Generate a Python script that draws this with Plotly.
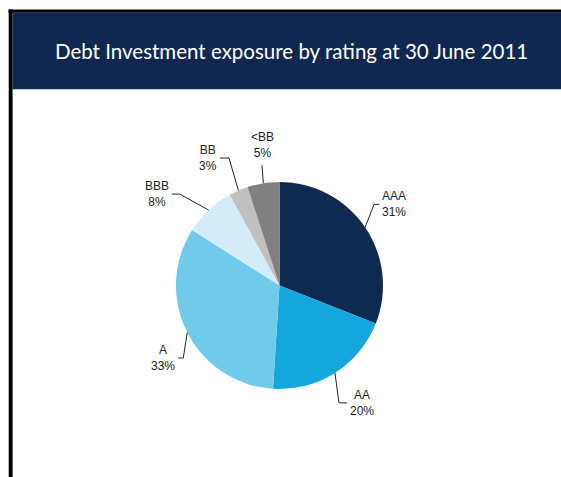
import math
import plotly.graph_objects as go

# Portfolio split by credit rating (percent of debt investments)
ratings = ["AAA", "AA", "A", "BBB", "BB", "<BB"]
shares = [31, 20, 33, 8, 3, 5]
colors = ["#0F2A50", "#14A6DD", "#72CAEB", "#D2ECF8", "#C0C0C0", "#808080"]

title_text = "Debt Investment exposure by rating at 30 June 2011"

W, H = 561, 477
NAVY = "#0F2850"

# pie geometry in pixels
CX, CY, R = 279.5, 285.5, 103.5

# leader-line routing per rating: elbow offset from the rim point, horizontal stub, label side
leader_elbow = {
    "AAA": (9, -23), "AA": (4, 30), "A": (-4, 25.5),
    "BBB": (-29, -16), "BB": (-9.4, -32.5), "<BB": (-1.3, -18),
}
leader_stub = {"AAA": 5, "AA": 8, "A": -5, "BBB": -8, "BB": -9, "<BB": 0}


def px(x):
    return x / W


def py(y):
    return 1 - y / H


fig = go.Figure()

fig.add_trace(go.Pie(
    labels=ratings,
    values=shares,
    sort=False,
    direction="clockwise",
    rotation=0,
    marker=dict(colors=colors, line=dict(width=0)),
    textinfo="none",
    hoverinfo="label+percent",
    showlegend=False,
    domain=dict(x=[px(CX - R), px(CX + R)], y=[py(CY + R), py(CY - R)]),
))

shapes = [
    # black frame: top rule and left rule
    dict(type="rect", xref="paper", yref="paper", x0=px(8.5), x1=px(W), y0=py(12.8), y1=py(9.5),
         fillcolor="#000000", line=dict(width=0), layer="below"),
    dict(type="rect", xref="paper", yref="paper", x0=px(8.7), x1=px(12.6), y0=py(H), y1=py(9.5),
         fillcolor="#000000", line=dict(width=0), layer="below"),
    # title band
    dict(type="rect", xref="paper", yref="paper", x0=px(12.6), x1=px(W), y0=py(89.3), y1=py(12.8),
         fillcolor=NAVY, line=dict(width=0), layer="below"),
]

annotations = [
    dict(text=title_text, xref="paper", yref="paper", x=px(291), y=py(51.5),
         xanchor="center", yanchor="middle", showarrow=False,
         font=dict(family="Lato", size=20.5, color="#FFFFFF")),
]

total = sum(shares)
cum = 0.0
for name, val in zip(ratings, shares):
    mid = (cum + val / 2) / total * 2 * math.pi
    cum += val
    ex = CX + R * math.sin(mid)
    ey = CY - R * math.cos(mid)
    dx, dy = leader_elbow[name]
    bx, by = ex + dx, ey + dy
    sx = bx + leader_stub[name]
    path = f"M {px(ex)} {py(ey)} L {px(bx)} {py(by)} L {px(sx)} {py(by)}"
    shapes.append(dict(type="path", xref="paper", yref="paper", path=path,
                       line=dict(color="#222222", width=1)))
    label = f"{name}<br>{val}%"
    stub = leader_stub[name]
    if stub > 0:
        pos = dict(x=px(sx + 1), y=py(by), xanchor="left", yanchor="middle")
    elif stub < 0:
        pos = dict(x=px(sx - 1), y=py(by), xanchor="right", yanchor="middle")
    else:
        pos = dict(x=px(bx), y=py(by - 3), xanchor="center", yanchor="bottom")
    annotations.append(dict(text=label, xref="paper", yref="paper", showarrow=False,
                            align="center", font=dict(family="Liberation Sans", size=12, color="#222222"),
                            **pos))

fig.update_layout(
    width=W, height=H,
    margin=dict(l=0, r=0, t=0, b=0),
    paper_bgcolor="#FFFFFF",
    plot_bgcolor="#FFFFFF",
    shapes=shapes,
    annotations=annotations,
)

fig.write_html("out.html")
